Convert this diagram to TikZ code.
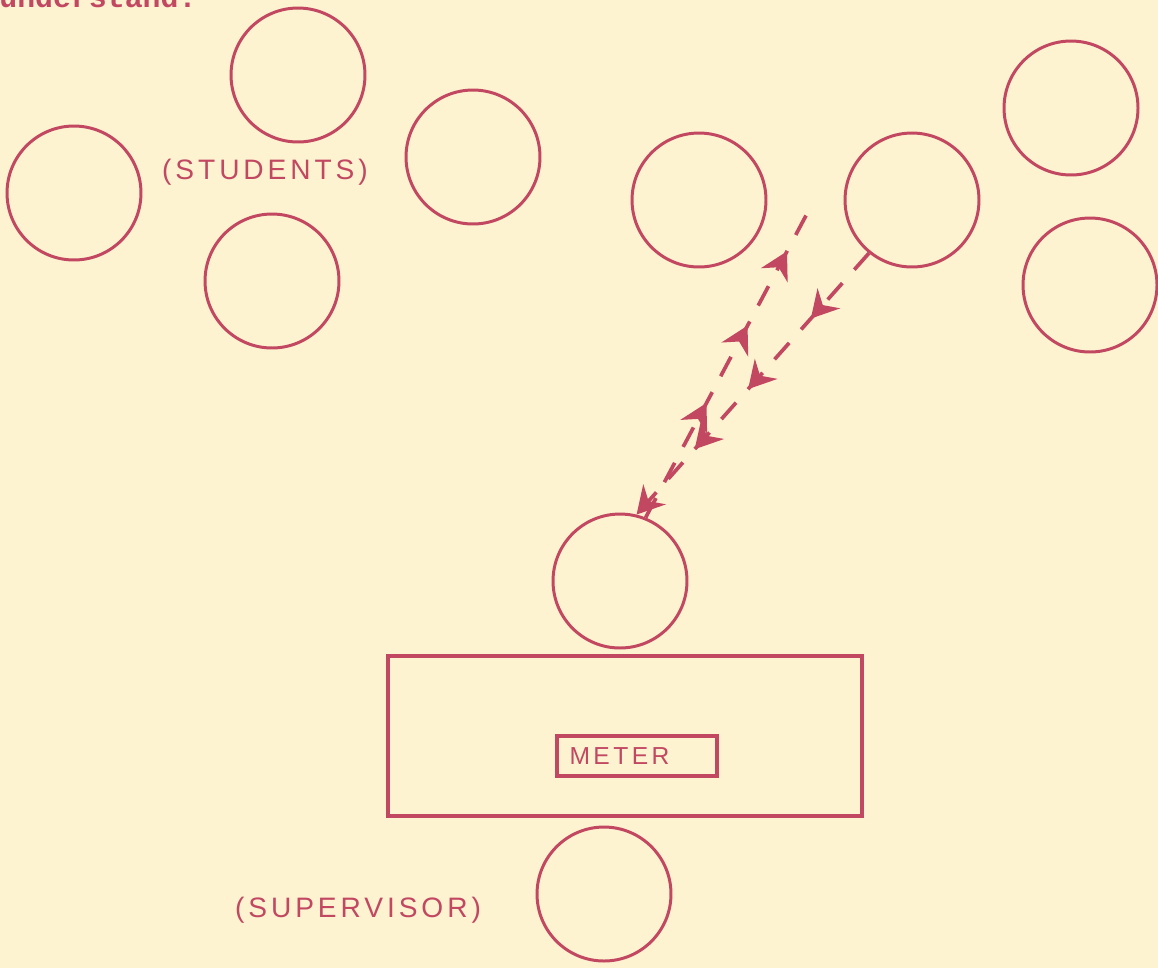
\documentclass[tikz,border=0pt]{standalone}
\usepackage{fontspec}
\usepackage{tikz}
\usetikzlibrary{arrows.meta,positioning,calc,decorations.markings}
\newfontfamily\handfont[LetterSpace=14]{Liberation Sans}
\newfontfamily\typefont{Liberation Mono}
\definecolor{ink}{RGB}{194,72,98}
\definecolor{paper}{RGB}{253,243,209}

\begin{document}
\begin{tikzpicture}[
  x=0.02cm, y=-0.02cm,
  >=Stealth,
  talktip/.tip={Stealth[length=5.4mm, width=6mm, inset=1.8mm]},
  seat/.style={circle, draw=ink, line width=1.7pt, minimum size=2.68cm, inner sep=0pt},
  label/.style={text=ink, font=\handfont\fontsize{16}{16}\selectfont},
  desk/.style={draw=ink, line width=2.3pt, minimum width=9.5cm, minimum height=3.2cm, inner sep=0pt},
  meter/.style={draw=ink, line width=2.6pt, minimum width=3.2cm, minimum height=0.8cm, text width=2.7cm, align=left, inner xsep=0.25cm, text=ink, font=\handfont\fontsize{14}{14}\selectfont},
  talk/.style={draw=ink, line width=2.1pt, dash pattern=on 0.44cm off 0.36cm},
  uparrows/.style={postaction={decorate}, decoration={markings,
    mark=at position 0.37 with {\arrow[ink]{talktip}},
    mark=at position 0.62 with {\arrow[ink]{talktip}},
    mark=at position 0.86 with {\arrow[ink]{talktip}}}},
  downarrows/.style={postaction={decorate}, decoration={markings,
    mark=at position 0.25 with {\arrow[ink]{talktip}},
    mark=at position 0.52 with {\arrow[ink]{talktip}},
    mark=at position 0.75 with {\arrow[ink]{talktip}}}}
]
\fill[paper] (0,0) rectangle (1158,968);
\useasboundingbox (0,0) rectangle (1158,968);

% cut-off line of the page above
\node[anchor=base west, inner sep=0pt, text=ink, font=\typefont\bfseries\fontsize{17}{17}\selectfont] (prev) at (-1,7) {understand.};

% students
\node[seat] (s1) at (74,193) {};
\node[seat] (s2) at (298,75) {};
\node[seat] (s3) at (272,281) {};
\node[seat] (s4) at (473,157) {};
\node[seat] (s5) at (699,200) {};
\node[seat] (s6) at (912,200) {};
\node[seat] (s7) at (1071,108) {};
\node[seat] (s8) at (1090,285) {};
\node[label] (students) at (265,172) {(STUDENTS)};

% speaker, desk, supervisor
\node[seat] (speaker) at (620,581) {};
\node[desk] (table) at (625,736) {};
\node[meter] (meterbox) at (637,756) {METER};
\node[seat] (sup) at (604,894) {};
\node[label] (suplabel) at (358,910) {(SUPERVISOR)};

% exchange
\coordinate (tipend) at (810,208);
\draw[talk, uparrows] (speaker.68) -- (tipend);
\draw[talk, downarrows, -{talktip}] (s6.231) -- (speaker.76);
\end{tikzpicture}
\end{document}
